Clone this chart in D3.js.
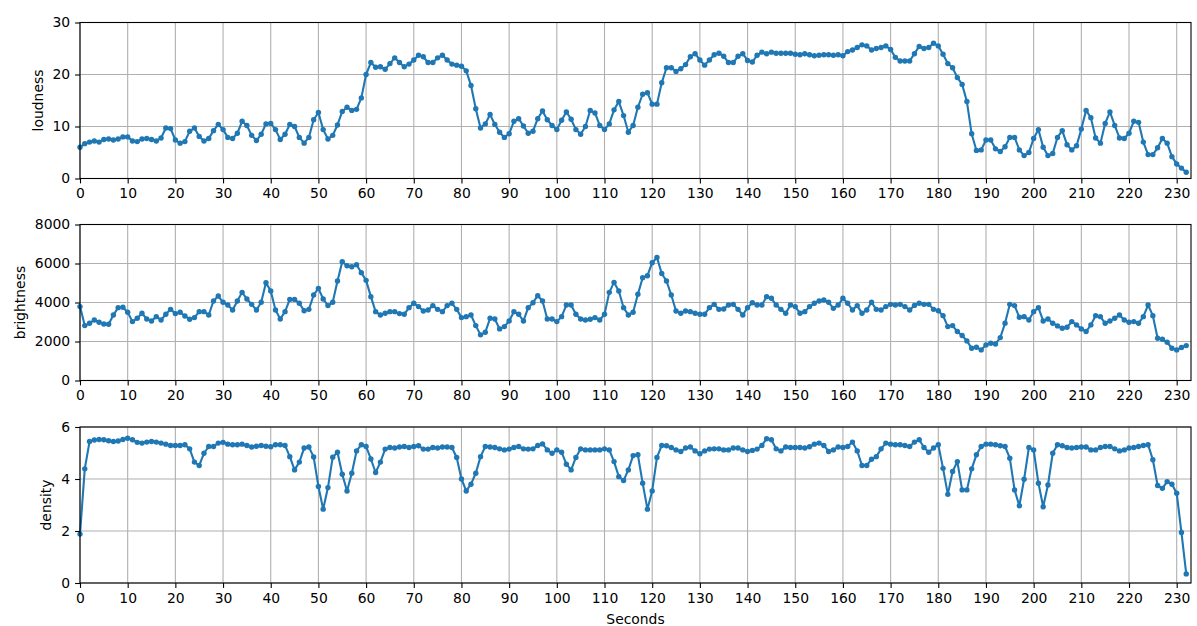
<!DOCTYPE html>
<html><head><meta charset="utf-8">
<script src="https://cdn.jsdelivr.net/npm/d3@7"></script>
<style>
body{margin:0;background:#fff;}
svg text{font-family:"DejaVu Sans",sans-serif;}
</style></head>
<body><svg id="c" width="1197" height="626"></svg>
<script>
const loudness = [
6.0,6.7,7.0,7.2,7.0,7.5,7.6,7.4,7.6,8.0,
8.0,7.2,7.1,7.6,7.7,7.5,7.2,7.8,9.7,9.6,
7.4,6.8,7.1,9.1,9.7,8.1,7.2,7.7,9.2,10.4,
9.4,7.9,7.7,8.7,11.0,10.2,8.3,7.3,8.5,10.5,
10.6,9.4,7.5,8.5,10.4,10.0,7.9,6.8,7.9,11.3,
12.7,9.4,7.6,8.3,10.3,12.9,13.7,13.1,13.3,15.5,
20.0,22.3,21.4,21.5,21.0,22.1,23.2,22.3,21.5,22.0,
22.8,23.7,23.4,22.3,22.3,23.2,23.7,22.8,22.0,21.8,
21.6,20.7,17.9,13.4,9.7,10.5,12.3,10.4,8.9,7.9,
8.6,11.0,11.5,10.1,8.7,9.1,11.5,13.0,11.3,10.2,
9.4,11.2,12.8,11.4,9.4,8.5,10.0,13.1,12.6,10.2,
9.4,10.5,13.2,14.8,12.1,8.9,10.2,13.7,16.2,16.5,
14.3,14.3,18.4,21.3,21.3,20.6,21.1,21.9,23.4,24.0,
22.8,21.8,22.8,23.8,24.1,23.5,22.3,22.3,23.5,24.0,
22.7,22.4,23.7,24.3,24.0,24.3,24.1,24.1,24.1,24.1,
23.9,23.8,24.0,23.8,23.6,23.7,23.8,23.8,23.7,23.8,
23.6,24.4,24.7,25.2,25.7,25.5,24.7,25.0,25.2,25.5,
24.8,23.3,22.6,22.6,22.6,24.0,25.4,25.0,25.2,26.0,
25.5,23.9,22.1,21.3,19.4,18.1,14.8,8.6,5.4,5.5,
7.4,7.4,5.7,5.2,6.1,7.9,7.9,5.5,4.4,5.0,
7.7,9.4,6.0,4.4,4.8,7.9,9.2,6.5,5.5,6.3,
9.5,13.1,11.7,7.8,6.8,10.6,12.8,10.2,7.8,7.7,
8.7,11.0,10.8,7.0,4.6,4.6,5.9,7.7,6.8,4.2,
2.8,2.0,1.2];

const brightness = [
3790,2815,2935,3105,2985,2900,2885,3360,3735,3755,
3500,3020,3190,3445,3155,3055,3275,3105,3395,3650,
3430,3500,3310,3140,3225,3530,3530,3360,4080,4330,
4010,3870,3615,4080,4520,4180,3905,3615,4010,5015,
4590,3615,3155,3530,4160,4160,3960,3580,3650,4385,
4725,4180,3840,4010,5100,6090,5885,5835,5940,5530,
5135,4300,3530,3360,3445,3530,3530,3430,3395,3735,
3960,3790,3565,3615,3840,3650,3530,3840,3960,3650,
3225,3275,3360,2815,2340,2475,3190,3155,2645,2765,
3055,3530,3395,3055,3735,3990,4350,4080,3155,3155,
3020,3275,3870,3870,3395,3155,3105,3140,3225,3105,
3395,4520,5030,4590,3735,3360,3500,4420,5270,5375,
6040,6310,5490,5100,4385,3565,3445,3565,3530,3445,
3395,3395,3735,3905,3650,3670,3870,3905,3650,3360,
3735,3990,3870,3870,4300,4215,3870,3650,3445,3870,
3790,3445,3530,3790,3960,4080,4130,4010,3700,3870,
4215,3960,3615,3840,3445,3615,4010,3650,3615,3790,
3905,3870,3905,3790,3615,3850,3960,3905,3905,3650,
3580,3325,2765,2815,2510,2305,2030,1655,1705,1570,
1825,1910,1875,2200,2935,3905,3840,3240,3275,3105,
3530,3735,3055,3155,2935,2800,2680,2730,3020,2850,
2645,2510,2850,3325,3275,2935,3055,3190,3360,3105,
2985,3020,2935,3275,3870,3325,2165,2115,1960,1655,
1570,1690,1790];

const density = [
1.88,4.39,5.44,5.50,5.52,5.51,5.47,5.44,5.46,5.52,
5.57,5.51,5.41,5.38,5.42,5.44,5.42,5.38,5.34,5.29,
5.29,5.29,5.32,5.16,4.65,4.52,4.99,5.25,5.25,5.38,
5.41,5.34,5.32,5.32,5.34,5.29,5.23,5.26,5.29,5.26,
5.24,5.32,5.32,5.29,4.86,4.35,4.65,5.19,5.23,4.85,
3.71,2.84,3.67,4.84,5.03,4.18,3.54,4.22,5.08,5.32,
5.25,4.77,4.25,4.65,5.15,5.21,5.19,5.23,5.25,5.21,
5.25,5.28,5.15,5.15,5.21,5.19,5.23,5.23,5.21,4.83,
4.00,3.54,3.80,4.22,4.86,5.25,5.23,5.21,5.16,5.12,
5.15,5.21,5.25,5.16,5.15,5.16,5.29,5.35,5.12,4.99,
5.12,5.03,4.57,4.35,4.83,5.16,5.12,5.12,5.12,5.12,
5.16,5.12,4.67,4.09,3.94,4.35,4.90,4.93,3.84,2.84,
3.54,4.83,5.29,5.28,5.21,5.12,5.06,5.19,5.23,5.08,
4.97,5.08,5.15,5.16,5.16,5.12,5.12,5.19,5.19,5.12,
5.06,5.10,5.15,5.29,5.55,5.51,5.16,5.08,5.23,5.21,
5.21,5.21,5.19,5.24,5.34,5.38,5.29,5.06,5.12,5.23,
5.21,5.25,5.42,5.08,4.52,4.52,4.76,4.86,5.16,5.38,
5.34,5.32,5.32,5.29,5.25,5.42,5.51,5.21,5.03,5.19,
5.32,4.41,3.41,4.29,4.67,3.58,3.58,4.39,4.93,5.25,
5.34,5.34,5.32,5.28,5.25,4.80,3.58,2.97,3.99,5.21,
5.12,3.84,2.93,3.77,4.99,5.32,5.28,5.21,5.19,5.21,
5.23,5.23,5.12,5.12,5.21,5.25,5.25,5.16,5.08,5.12,
5.19,5.21,5.25,5.29,5.32,4.74,3.75,3.64,3.90,3.80,
3.45,1.94,0.35];

const seconds = loudness.map((_, i) => i);
const xTicks = [0,10,20,30,40,50,60,70,80,90,100,110,120,130,140,150,160,170,180,190,200,210,220,230];
const loudnessTicks = [0,10,20,30];
const brightnessTicks = [0,2000,4000,6000,8000];
const densityTicks = [0,2,4,6];
const panelNames = ["loudness","brightness","density"];
const xLabel = "Seconds";

const svg = d3.select("#c");
const left = 80, right = 1191, ph = 156;
const tops = [22.5, 224.5, 427];
const color = "#1f77b4";
const x = d3.scaleLinear().domain([0, 233]).range([left, right]);

const panels = [
  {name: panelNames[0], data: loudness, dom: [0,30], ticks: loudnessTicks},
  {name: panelNames[1], data: brightness, dom: [0,8000], ticks: brightnessTicks},
  {name: panelNames[2], data: density, dom: [0,6], ticks: densityTicks}
];

panels.forEach((p, i) => {
  const top = tops[i], bottom = top + ph;
  const y = d3.scaleLinear().domain(p.dom).range([bottom, top]);
  const g = svg.append("g");
  g.append("g").selectAll("line").data(xTicks).join("line")
    .attr("x1", d => x(d)).attr("x2", d => x(d)).attr("y1", top).attr("y2", bottom)
    .attr("stroke", "#b0b0b0").attr("stroke-width", 1.1);
  g.append("g").selectAll("line").data(p.ticks).join("line")
    .attr("x1", left).attr("x2", right).attr("y1", d => y(d)).attr("y2", d => y(d))
    .attr("stroke", "#b0b0b0").attr("stroke-width", 1.1);
  g.append("path").datum(p.data)
    .attr("fill", "none").attr("stroke", color).attr("stroke-width", 2.1)
    .attr("stroke-linejoin", "round")
    .attr("d", d3.line().x((d, j) => x(seconds[j])).y(d => y(d)));
  g.append("g").selectAll("circle").data(p.data).join("circle")
    .attr("cx", (d, j) => x(seconds[j])).attr("cy", d => y(d)).attr("r", 2.7)
    .attr("fill", color);
  g.append("rect").attr("x", left).attr("y", top).attr("width", right - left).attr("height", ph)
    .attr("fill", "none").attr("stroke", "#000").attr("stroke-width", 1.1);
  const ax = g.append("g").attr("transform", `translate(0,${bottom})`)
    .call(d3.axisBottom(x).tickValues(xTicks).tickSize(4.9).tickPadding(4.9).tickSizeOuter(0));
  const ay = g.append("g").attr("transform", `translate(${left},0)`)
    .call(d3.axisLeft(y).tickValues(p.ticks).tickFormat(d3.format("d")).tickSize(4.9).tickPadding(4.9).tickSizeOuter(0));
  [ax, ay].forEach(a => {
    a.select(".domain").remove();
    a.selectAll(".tick line").attr("stroke", "#000").attr("stroke-width", 1.1);
    a.selectAll(".tick text").attr("fill", "#000").style("font-size", "13.9px").style("font-family", "DejaVu Sans");
  });
  let minL = left;
  ay.selectAll(".tick text").each(function(){ const b = this.getBBox(); minL = Math.min(minL, left + b.x); });
  g.append("text").attr("transform", `translate(${minL - 10},${(top + bottom) / 2}) rotate(-90)`)
    .attr("text-anchor", "middle").style("font-size", "13.9px").attr("fill", "#000").text(p.name);
});

svg.append("text").attr("x", (left + right) / 2).attr("y", 624)
  .attr("text-anchor", "middle").style("font-size", "13.9px").attr("fill", "#000").text(xLabel);
</script></body></html>
